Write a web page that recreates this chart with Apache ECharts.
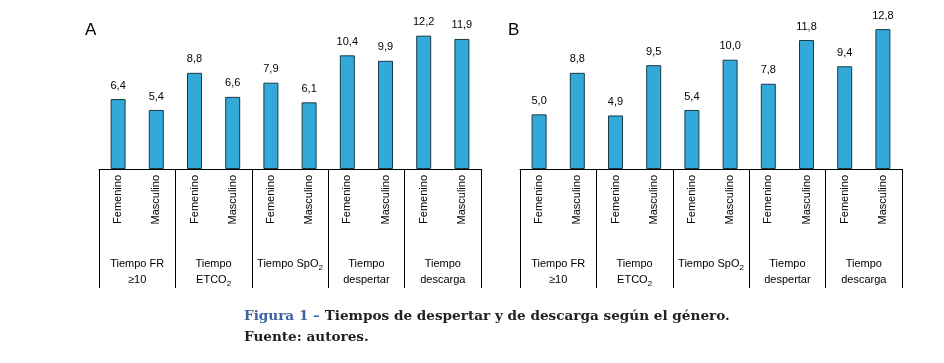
<!DOCTYPE html>
<html>
<head>
<meta charset="utf-8">
<script src="https://cdn.jsdelivr.net/npm/echarts@6/dist/echarts.min.js"></script>
<style>
html,body{margin:0;padding:0;background:#fff;}
#chart{width:944px;height:363px;}
</style>
</head>
<body>
<div id="chart"></div>
<script>
// datos de la figura
var generos = ['Femenino','Masculino','Femenino','Masculino','Femenino','Masculino','Femenino','Masculino','Femenino','Masculino'];
var grupos = ['Tiempo FR\n≥10', 'Tiempo\nETCO{sub|2}', 'Tiempo SpO{sub|2}', 'Tiempo\ndespertar', 'Tiempo\ndescarga'];
var valoresA = [6.4, 5.4, 8.8, 6.6, 7.9, 6.1, 10.4, 9.9, 12.2, 11.9];
var valoresB = [5.0, 8.8, 4.9, 9.5, 5.4, 10.0, 7.8, 11.8, 9.4, 12.8];

var chart = echarts.init(document.getElementById('chart'));
var font = 'Liberation Sans, Arial, sans-serif';
var azul = '#33a9d9';

function grid(left) {
    return {left: left, width: 382, top: 16, height: 153, containLabel: false};
}
function ejeGenero(idx) {
    return {
        type: 'category', gridIndex: idx, data: generos,
        axisLine: {show: true, lineStyle: {color: '#000', width: 1}},
        axisTick: {show: false},
        axisLabel: {rotate: 90, margin: 6, color: '#000', fontSize: 11, fontFamily: font, interval: 0}
    };
}
function ejeGrupo(idx) {
    return {
        type: 'category', gridIndex: idx, data: grupos, position: 'bottom',
        axisLine: {show: false},
        axisTick: {show: true, length: 119, lineStyle: {color: '#000', width: 1}},
        axisLabel: {
            margin: 87, color: '#000', fontSize: 11, fontFamily: font, lineHeight: 16, interval: 0,
            rich: {sub: {fontSize: 8, verticalAlign: 'bottom', padding: [6, 0, 0, 0], fontFamily: font, color: '#000'}}
        }
    };
}
function serie(idx, datos) {
    return {
        type: 'bar', xAxisIndex: idx * 2, yAxisIndex: idx, data: datos, barWidth: 15,
        itemStyle: {color: azul, borderColor: '#1b3a48', borderWidth: 1},
        label: {
            show: true, position: 'top', distance: 8, color: '#000', fontSize: 11, fontFamily: font,
            formatter: function (p) { return p.value.toFixed(1).replace('.', ','); }
        }
    };
}

chart.setOption({
    animation: false,
    grid: [grid(99), grid(520)],
    xAxis: [ejeGenero(0), ejeGrupo(0), ejeGenero(1), ejeGrupo(1)],
    yAxis: [
        {type: 'value', gridIndex: 0, min: 0, max: 14, show: false},
        {type: 'value', gridIndex: 1, min: 0, max: 14, show: false}
    ],
    series: [serie(0, valoresA), serie(1, valoresB)],
    graphic: [
        {type: 'text', left: 85, top: 22, style: {text: 'A', fontSize: 17, fontFamily: font, fill: '#000'}},
        {type: 'text', left: 508, top: 22, style: {text: 'B', fontSize: 17, fontFamily: font, fill: '#000'}},
        {type: 'text', left: 244, top: 306, style: {
            text: '{f|Figura 1 –} Tiempos de despertar y de descarga según el género.\nFuente: autores.',
            fontSize: 13.6, fontWeight: 'bold', fontFamily: 'DejaVu Serif, serif', fill: '#222', lineHeight: 21,
            rich: {f: {fill: '#3d62a0', fontSize: 13.6, fontWeight: 'bold', fontFamily: 'DejaVu Serif, serif'}}
        }}
    ]
});
</script>
</body>
</html>
